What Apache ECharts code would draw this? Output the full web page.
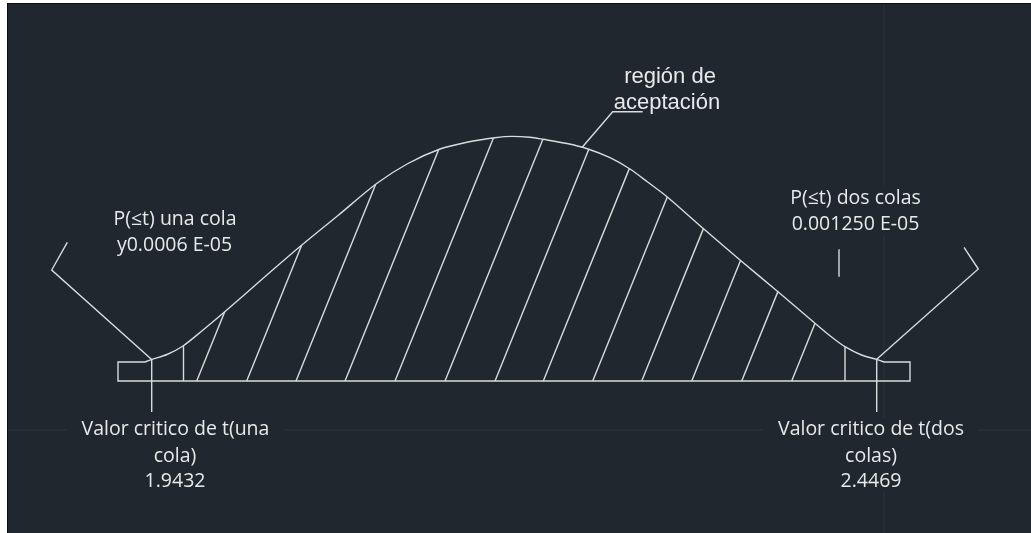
<!DOCTYPE html>
<html>
<head>
<meta charset="utf-8">
<script src="https://cdn.jsdelivr.net/npm/echarts@6.0.0/dist/echarts.min.js"></script>
<style>
  html, body { margin: 0; padding: 0; background: #ffffff; }
  #chart { width: 1031px; height: 533px; }
</style>
</head>
<body>
<div id="chart"></div>
<script>
// Outline of the t distribution, in drawing units (x to the right, y downward)
const curvePoints = [
  [145, 362], [152, 359.3], [167, 354.5], [183, 346], [203, 330], [223, 313.3],
  [260, 281], [298, 248.3], [338, 215.5], [377, 183.3], [408, 163.5], [440, 149],
  [467, 142.2], [495, 137.7], [512, 136.4], [530, 137.3], [543, 139.3], [567, 143.5],
  [588, 149], [610, 157.7], [630, 169], [648, 182.3], [667, 196.7], [705, 230],
  [740, 260], [778, 291.7], [815, 323.3], [830, 335.7], [845, 346.7], [861.5, 355],
  [876.7, 359.3], [884, 362]
];

// Foot of each hatch stroke on the base line of the acceptance region
const hatchFeet = [196.7, 246.7, 296, 345, 395, 445, 495, 543.3, 592.7, 641.7, 691.7, 741.7, 791.7];
// Vertical strokes that close the hatch next to each tail
const tailBounds = [183.5, 845];
// Critical values of t, placed at the two rejection limits
const criticalX = [151.7, 876.7];
const criticalValues = ['1.9432', '2.4469'];
const criticalTitles = ['Valor critico de t(una', 'Valor critico de t(dos'];
const criticalTitlesEnd = ['cola)', 'colas)'];
const tailTitles = ['P(≤t) una cola', 'P(≤t) dos colas'];
const tailValues = ['y0.0006 E-05', '0.001250 E-05'];
const regionLines = ['región de', 'aceptación'];

// Drawing layout
const baseY = 381;
const boxTopY = 362;
const baseLeft = 118, baseRight = 910;
const hatchSlope = 0.405;          // horizontal run per unit rise of a hatch stroke
const critTickEnd = 412;

const bg = '#21272f';
const ink = '#dadbdc';
const textInk = '#e8e9ea';
const faint = '#2d343d';

function curveY(x) {
  for (let i = 1; i < curvePoints.length; i++) {
    const a = curvePoints[i - 1], b = curvePoints[i];
    if (x <= b[0]) {
      const t = (x - a[0]) / (b[0] - a[0]);
      return a[1] + t * (b[1] - a[1]);
    }
  }
  return curvePoints[curvePoints.length - 1][1];
}

// Walk up a hatch stroke from its foot until it meets the outline
function hatchTop(x0) {
  let lo = 0, hi = 300;
  for (let i = 0; i < 60; i++) {
    const s = (lo + hi) / 2;
    const h = (baseY - s) - curveY(x0 + hatchSlope * s);
    if (h > 0) lo = s; else hi = s;
  }
  return [x0 + hatchSlope * lo, baseY - lo];
}

const hatchSegs = hatchFeet.map(x => ({ coords: [[x, baseY], hatchTop(x)] }));
const boundSegs = tailBounds.map(x => ({ coords: [[x, curveY(x)], [x, baseY]] }));
const critSegs = criticalX.map(x => ({ coords: [[x, curveY(x)], [x, critTickEnd]] }));

const frameSegs = [
  { coords: [[curvePoints[0][0], boxTopY], [baseLeft, boxTopY], [baseLeft, baseY], [baseRight, baseY], [baseRight, boxTopY], [curvePoints[curvePoints.length - 1][0], boxTopY]] }
];

const pointerSegs = [
  { coords: [[criticalX[0], curveY(criticalX[0])], [51.7, 270], [67.3, 242.3]] },
  { coords: [[criticalX[1], curveY(criticalX[1])], [978.3, 269], [964, 247.3]] },
  { coords: [[582, curveY(582)], [612.7, 111.7], [642.7, 111.7]] },
  { coords: [[839, 249.3], [839, 276.7]] }
];

const faintSegs = [
  { coords: [[8, 430], [1031, 430]] },
  { coords: [[884, 4], [884, 533]] }
];

function txt(text, x, y, size, family, z) {
  return {
    type: 'text', z: z || 20,
    style: {
      text: text, x: x, y: y,
      fill: textInk,
      fontSize: size, fontFamily: family,
      align: 'center', verticalAlign: 'middle',
      textAlign: 'center', textVerticalAlign: 'middle'
    }
  };
}
function mask(x, y, w, h) {
  return { type: 'rect', z: 15, shape: { x: x, y: y, width: w, height: h }, style: { fill: bg } };
}

const sans = '"Open Sans", "Noto Sans", sans-serif';
const arial = '"Liberation Sans", Arial, sans-serif';

const chart = echarts.init(document.getElementById('chart'), null, { renderer: 'canvas' });
chart.setOption({
  backgroundColor: '#ffffff',
  animation: false,
  grid: { left: 0, right: 0, top: 0, bottom: 0 },
  xAxis: { type: 'value', min: 0, max: 1031, show: false },
  yAxis: { type: 'value', min: 0, max: 533, inverse: true, show: false },
  graphic: [
    { type: 'rect', z: -10, shape: { x: 7, y: 3, width: 1040, height: 540 }, style: { fill: '#0b0d10' } },
    { type: 'rect', z: -9, shape: { x: 8, y: 4, width: 1040, height: 540 }, style: { fill: bg } },
    mask(67, 418, 216, 74),
    mask(763, 418, 215, 74),
    mask(785, 185, 142, 50),
    txt(regionLines[0], 670, 77, 22, arial),
    txt(regionLines[1], 667, 103, 22, arial),
    txt(tailTitles[0], 175, 219, 19.5, sans),
    txt(tailValues[0], 174.5, 245.5, 19.5, sans),
    txt(tailTitles[1], 855.5, 198, 19.5, sans),
    txt(tailValues[1], 855.5, 224, 19.5, sans),
    txt(criticalTitles[0], 175.5, 429.5, 19.5, sans),
    txt(criticalTitlesEnd[0], 175, 456, 19.5, sans),
    txt(criticalValues[0], 175, 481.5, 19.5, sans),
    txt(criticalTitles[1], 871, 429.5, 19.5, sans),
    txt(criticalTitlesEnd[1], 871, 456, 19.5, sans),
    txt(criticalValues[1], 871, 481.5, 19.5, sans)
  ],
  series: [
    {
      type: 'lines', coordinateSystem: 'cartesian2d', polyline: true, z: 1, silent: true,
      lineStyle: { color: faint, width: 1, opacity: 1 },
      data: faintSegs
    },
    {
      type: 'line', z: 5, silent: true,
      data: curvePoints, smooth: 0.3, showSymbol: false,
      lineStyle: { color: ink, width: 1.4 }
    },
    {
      type: 'lines', coordinateSystem: 'cartesian2d', polyline: true, z: 5, silent: true,
      lineStyle: { color: ink, width: 1.4, opacity: 1 },
      data: frameSegs.concat(hatchSegs, boundSegs, critSegs, pointerSegs)
    }
  ]
});
</script>
</body>
</html>
